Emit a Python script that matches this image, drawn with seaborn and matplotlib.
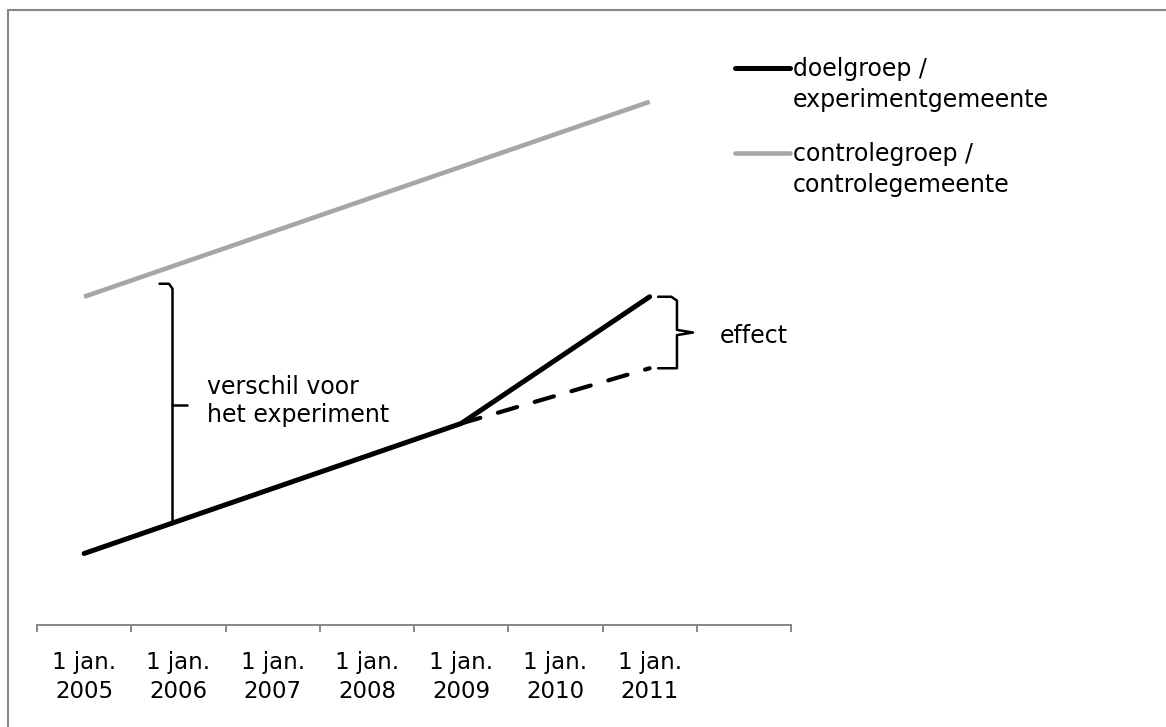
import numpy as np
import pandas as pd
import matplotlib
matplotlib.use("Agg")
import matplotlib.pyplot as plt
from matplotlib.lines import Line2D
from matplotlib.patches import Rectangle
import seaborn as sns

# ---- data -------------------------------------------------------------
categories = ["1 jan.\n2005", "1 jan.\n2006", "1 jan.\n2007", "1 jan.\n2008",
              "1 jan.\n2009", "1 jan.\n2010", "1 jan.\n2011", ""]
exp_pos = [0, 1, 2, 3, 4, 6]
exp_values = [11.0, 16.0, 21.0, 26.0, 31.0, 50.5]
ctrl_pos = [0, 1, 2, 3, 4, 5, 6]
ctrl_values = [50.5, 55.5, 60.5, 65.5, 70.5, 75.5, 80.5]
cf_pos = [4, 6]
cf_values = [31.0, 39.5]
legend_labels = ["doelgroep /\nexperimentgemeente", "controlegroep /\ncontrolegemeente"]
note_before = "verschil voor\nhet experiment"
note_effect = "effect"

# ---- style ------------------------------------------------------------
sns.set_style("white")
plt.rcParams["font.family"] = ["DejaVu Sans"]
plt.rcParams["text.color"] = "black"
FS_TICK = 16.5
FS = 17
BLACK = "#000000"
GREY = "#a6a6a6"
FRAME = "#878787"

W, H = 1166, 727
fig = plt.figure(figsize=(W / 100, H / 100), dpi=100)
fig.patch.set_facecolor("white")

def px(x, y):
    return x / W, 1 - y / H

# axes placement (pixels)
x_left, x_right = 37, 791
y_axis, y_top = 625, 40
ax = fig.add_axes([x_left / W, (H - y_axis) / H, (x_right - x_left) / W, (y_axis - y_top) / H])
ax.set_facecolor("none")
ax.set_xlim(-0.5, len(categories) - 0.5)
ax.set_ylim(0, 90)

# series
sns.lineplot(x=ctrl_pos, y=ctrl_values, ax=ax, color=GREY, lw=3.3,
             solid_capstyle="butt", clip_on=False)
sns.lineplot(x=cf_pos, y=cf_values, ax=ax, color=BLACK, lw=3.0,
             linestyle=(0, (4.8, 4.4)), dash_capstyle="round", clip_on=False)
sns.lineplot(x=exp_pos, y=exp_values, ax=ax, color=BLACK, lw=3.6,
             solid_capstyle="round", solid_joinstyle="round", clip_on=False)

# axis styling
for s in ["left", "right", "top"]:
    ax.spines[s].set_visible(False)
ax.spines["bottom"].set_color(FRAME)
ax.spines["bottom"].set_linewidth(1.4)
ax.set_yticks([])
ax.set_xticks(range(len(categories)))
ax.set_xticklabels(categories, fontsize=FS_TICK, linespacing=1.3, color="black")
ax.set_xticks(np.arange(-0.5, len(categories)), minor=True)
ax.tick_params(axis="x", which="major", length=0, pad=19, labelcolor="black")
ax.tick_params(axis="x", which="minor", length=5, width=1.4, color=FRAME, direction="out", bottom=True)
ax.set_xlabel("")
ax.set_ylabel("")

# effect brace (annotation derived from the data)
def brace(ax, x, y0, y1, hook, tick):
    ym = (y0 + y1) / 2
    xs = [x - hook, x - hook * 0.3, x, x, x + tick, x, x, x, x - hook * 0.3, x - hook]
    ys = [y1, y1, y1 - 0.6, ym + 0.4, ym, ym - 0.4, y0 + 0.6, y0, y0, y0]
    ax.plot(xs, ys, color=BLACK, lw=1.8, solid_joinstyle="round", clip_on=False)

# left brace: from experiment line at x=0.93 up to just below control start
bx = 0.93
b_low = exp_values[0] + (exp_values[1] - exp_values[0]) * bx
b_high = ctrl_values[0] + 2.0
ax.plot([bx, bx], [b_low, b_high - 0.6], color=BLACK, lw=1.8, clip_on=False)
ax.plot([bx - 0.13, bx - 0.03, bx, bx], [b_high, b_high, b_high - 0.6, b_high - 0.6],
        color=BLACK, lw=1.8, solid_joinstyle="round", clip_on=False)
bm = 33.8
ax.plot([bx, bx + 0.16], [bm, bm], color=BLACK, lw=1.8, clip_on=False)
fig.text(*px(207, 375), note_before, fontsize=FS, ha="left", va="top", linespacing=1.2)

ex = 6.29
brace(ax, ex, cf_values[-1], exp_values[-1], 0.20, 0.17)
ax.text(ex + 0.45, (cf_values[-1] + exp_values[-1]) / 2 - 0.6, note_effect, fontsize=FS,
        ha="left", va="center")

# legend (manual)
for i, (lab, col, lw) in enumerate(zip(legend_labels, [BLACK, GREY], [3.6, 3.3])):
    yy = 68 + 85 * i
    fig.add_artist(Line2D([px(735, 0)[0], px(790, 0)[0]], [px(0, yy)[1]] * 2,
                          color=col, lw=lw, solid_capstyle="round"))
    fig.text(*px(793, yy - 11), lab, fontsize=FS, ha="left", va="top", linespacing=1.36)

# outer frame
fig.add_artist(Rectangle(px(8, 760), (W + 50) / W, 750 / H, transform=fig.transFigure,
                         fill=False, edgecolor=FRAME, lw=1.5, clip_on=False))

fig.savefig("out.png", dpi=100, facecolor="white")
